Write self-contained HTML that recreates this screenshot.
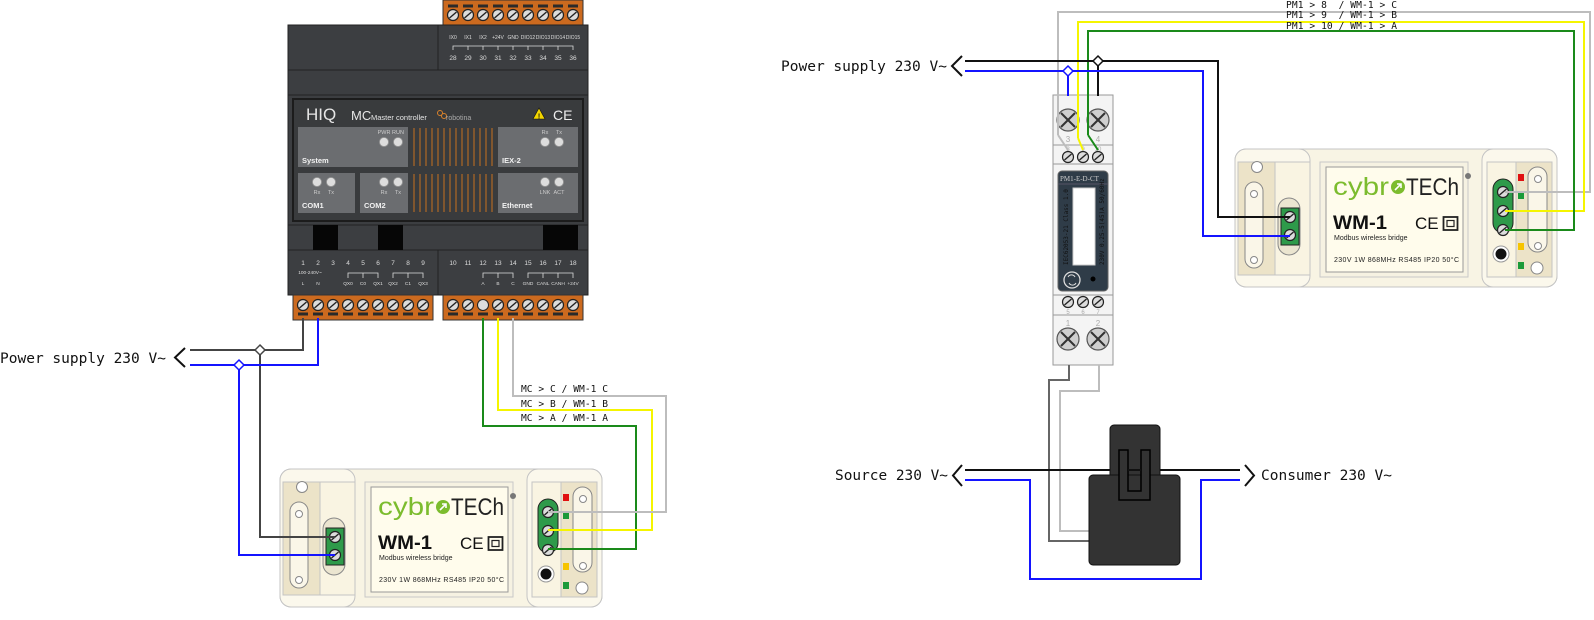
<!DOCTYPE html>
<html><head><meta charset="utf-8"><style>
html,body{margin:0;padding:0;background:#fff;}
svg{display:block;}
.m{font-family:"DejaVu Sans Mono","Liberation Mono",monospace;fill:#111;}
.s{font-family:"Liberation Sans",sans-serif;}
</style></head><body>
<svg width="1594" height="620" viewBox="0 0 1594 620" xmlns="http://www.w3.org/2000/svg">
<defs>
<g id="sc"><circle r="5.5" fill="#dcdcdc" stroke="#222" stroke-width="1.2"/><line x1="-3.5" y1="3" x2="3.5" y2="-3" stroke="#222" stroke-width="1.4"/></g>
<g id="bx"><circle r="11" fill="#cfcfcf" stroke="#555" stroke-width="1.2"/><line x1="-7" y1="-7" x2="7" y2="7" stroke="#333" stroke-width="2"/><line x1="-7" y1="7" x2="7" y2="-7" stroke="#333" stroke-width="2"/></g>
<g id="led"><circle r="4.5" fill="#ddd" stroke="#999" stroke-width="0.8"/></g>
<g id="tab"><rect x="-5" y="-1.5" width="10" height="3" fill="#2a2a2a"/></g>
</defs>

<!-- ================= CONTROLLER ================= -->
<rect x="443" y="0" width="140" height="25" fill="#cc6a1f" stroke="#333"/>
<g>
<use href="#tab" x="453" y="6"/><use href="#tab" x="468" y="6"/><use href="#tab" x="483" y="6"/><use href="#tab" x="498" y="6"/><use href="#tab" x="513" y="6"/><use href="#tab" x="528" y="6"/><use href="#tab" x="543" y="6"/><use href="#tab" x="558" y="6"/><use href="#tab" x="573" y="6"/>
<use href="#sc" x="453" y="15"/><use href="#sc" x="468" y="15"/><use href="#sc" x="483" y="15"/><use href="#sc" x="498" y="15"/><use href="#sc" x="513" y="15"/><use href="#sc" x="528" y="15"/><use href="#sc" x="543" y="15"/><use href="#sc" x="558" y="15"/><use href="#sc" x="573" y="15"/>
</g>
<rect x="288" y="25" width="300" height="270" fill="#3c3e41" stroke="#222"/>
<line x1="288" y1="70" x2="588" y2="70" stroke="#222"/>
<line x1="438" y1="25" x2="438" y2="70" stroke="#222"/>
<line x1="288" y1="95" x2="588" y2="95" stroke="#222"/>
<g class="s" font-size="5" fill="#ddd" text-anchor="middle">
<text x="453" y="39">IX0</text><text x="468" y="39">IX1</text><text x="483" y="39">IX2</text><text x="498" y="39">+24V</text><text x="513" y="39">GND</text><text x="528" y="39">DIO12</text><text x="543" y="39">DIO13</text><text x="558" y="39">DIO14</text><text x="573" y="39">DIO15</text>
</g>
<path d="M453 50 V46 H573 V50 M468 46 V50 M483 46 V50 M498 46 V50 M513 46 V50 M528 46 V50 M543 46 V50 M558 46 V50" stroke="#ddd" fill="none" stroke-width="0.8"/>
<g class="s" font-size="6.5" fill="#ddd" text-anchor="middle">
<text x="453" y="60">28</text><text x="468" y="60">29</text><text x="483" y="60">30</text><text x="498" y="60">31</text><text x="513" y="60">32</text><text x="528" y="60">33</text><text x="543" y="60">34</text><text x="558" y="60">35</text><text x="573" y="60">36</text>
</g>
<!-- panel -->
<rect x="293" y="99" width="290" height="122" fill="#393b3d" stroke="#1c1c1c" stroke-width="2"/>
<text x="306" y="120" class="s" font-size="17" fill="#e6e6e6">HIQ</text>
<text x="351" y="120" class="s" font-size="13" fill="#e6e6e6">MC</text>
<text x="371" y="120" class="s" font-size="7.5" fill="#e6e6e6">Master controller</text>
<circle cx="440" cy="113" r="2.5" fill="none" stroke="#d9822b"/><circle cx="444" cy="116" r="2.5" fill="none" stroke="#d9822b"/>
<text x="446" y="120" class="s" font-size="7" fill="#aaa">robotina</text>
<polygon points="539,108 545,119 533,119" fill="#f2d500" stroke="#111" stroke-width="0.6"/>
<text x="539" y="118.5" class="s" font-size="7" font-weight="bold" text-anchor="middle" fill="#111">!</text>
<text x="553" y="120" class="s" font-size="14" fill="#eee">CE</text>
<rect x="298" y="127" width="110" height="40" fill="#6b6d70"/>
<rect x="298" y="173" width="57" height="40" fill="#6b6d70"/>
<rect x="360" y="173" width="48" height="40" fill="#6b6d70"/>
<rect x="498" y="127" width="80" height="40" fill="#6b6d70"/>
<rect x="498" y="173" width="80" height="40" fill="#6b6d70"/>
<g stroke="#c8701f" stroke-width="1">
<path d="M414 128V166M420 128V166M426 128V166M432 128V166M438 128V166M444 128V166M450 128V166M456 128V166M462 128V166M468 128V166M474 128V166M480 128V166M486 128V166M492 128V166"/>
<path d="M414 174V212M420 174V212M426 174V212M432 174V212M438 174V212M444 174V212M450 174V212M456 174V212M462 174V212M468 174V212M474 174V212M480 174V212M486 174V212M492 174V212"/>
</g>
<use href="#led" x="384" y="142"/><use href="#led" x="398" y="142"/>
<use href="#led" x="545" y="142"/><use href="#led" x="559" y="142"/>
<use href="#led" x="317" y="182"/><use href="#led" x="331" y="182"/>
<use href="#led" x="384" y="182"/><use href="#led" x="398" y="182"/>
<use href="#led" x="545" y="182"/><use href="#led" x="559" y="182"/>
<g class="s" font-size="5.5" fill="#ccc" text-anchor="middle">
<text x="384" y="134">PWR</text><text x="398" y="134">RUN</text>
<text x="545" y="134">Rx</text><text x="559" y="134">Tx</text>
<text x="317" y="194">Rx</text><text x="331" y="194">Tx</text>
<text x="384" y="194">Rx</text><text x="398" y="194">Tx</text>
<text x="545" y="194">LNK</text><text x="559" y="194">ACT</text>
</g>
<g class="s" font-size="7.5" font-weight="bold" fill="#f2f2f2">
<text x="302" y="163">System</text><text x="502" y="163">IEX-2</text>
<text x="302" y="208">COM1</text><text x="364" y="208">COM2</text><text x="502" y="208">Ethernet</text>
</g>
<line x1="288" y1="225" x2="588" y2="225" stroke="#222"/>
<line x1="288" y1="250" x2="588" y2="250" stroke="#222"/>
<rect x="313" y="225" width="25" height="25" fill="#060606"/>
<rect x="378" y="225" width="25" height="25" fill="#060606"/>
<rect x="543" y="225" width="35" height="25" fill="#060606"/>
<line x1="438" y1="250" x2="438" y2="295" stroke="#222"/>
<g class="s" font-size="6.5" fill="#ddd" text-anchor="middle">
<text x="303" y="265">1</text><text x="318" y="265">2</text><text x="333" y="265">3</text><text x="348" y="265">4</text><text x="363" y="265">5</text><text x="378" y="265">6</text><text x="393" y="265">7</text><text x="408" y="265">8</text><text x="423" y="265">9</text>
<text x="453" y="265">10</text><text x="468" y="265">11</text><text x="483" y="265">12</text><text x="498" y="265">13</text><text x="513" y="265">14</text><text x="528" y="265">15</text><text x="543" y="265">16</text><text x="558" y="265">17</text><text x="573" y="265">18</text>
</g>
<g class="s" font-size="4.8" fill="#ddd" text-anchor="middle">
<text x="310" y="274">100-240V~</text>
<text x="303" y="285">L</text><text x="318" y="285">N</text><text x="348" y="285">QX0</text><text x="363" y="285">C0</text><text x="378" y="285">QX1</text><text x="393" y="285">QX2</text><text x="408" y="285">C1</text><text x="423" y="285">QX3</text>
<text x="483" y="285">A</text><text x="498" y="285">B</text><text x="513" y="285">C</text><text x="528" y="285">GND</text><text x="543" y="285">CANL</text><text x="558" y="285">CANH</text><text x="573" y="285">+24V</text>
</g>
<path d="M348 278V273H378V278M363 273V278M393 278V273H423V278M408 273V278M483 278V273H513V278M498 273V278M528 278V273H573V278M543 273V278M558 273V278" stroke="#ddd" fill="none" stroke-width="0.8"/>
<rect x="293" y="295" width="140" height="25" fill="#cc6a1f" stroke="#333"/>
<rect x="443" y="295" width="140" height="25" fill="#cc6a1f" stroke="#333"/>
<g>
<use href="#sc" x="303" y="305"/><use href="#sc" x="318" y="305"/><use href="#sc" x="333" y="305"/><use href="#sc" x="348" y="305"/><use href="#sc" x="363" y="305"/><use href="#sc" x="378" y="305"/><use href="#sc" x="393" y="305"/><use href="#sc" x="408" y="305"/><use href="#sc" x="423" y="305"/>
<use href="#sc" x="453" y="305"/><use href="#sc" x="468" y="305"/><circle cx="483" cy="305" r="5.5" fill="#dcdcdc" stroke="#222"/><use href="#sc" x="498" y="305"/><use href="#sc" x="513" y="305"/><use href="#sc" x="528" y="305"/><use href="#sc" x="543" y="305"/><use href="#sc" x="558" y="305"/><use href="#sc" x="573" y="305"/>
<use href="#tab" x="303" y="314"/><use href="#tab" x="318" y="314"/><use href="#tab" x="333" y="314"/><use href="#tab" x="348" y="314"/><use href="#tab" x="363" y="314"/><use href="#tab" x="378" y="314"/><use href="#tab" x="393" y="314"/><use href="#tab" x="408" y="314"/><use href="#tab" x="423" y="314"/>
<use href="#tab" x="453" y="314"/><use href="#tab" x="468" y="314"/><use href="#tab" x="483" y="314"/><use href="#tab" x="498" y="314"/><use href="#tab" x="513" y="314"/><use href="#tab" x="528" y="314"/><use href="#tab" x="543" y="314"/><use href="#tab" x="558" y="314"/><use href="#tab" x="573" y="314"/>
</g>

<!-- ================= WM-1 LEFT (origin 280,469) ================= -->
<g transform="translate(280,469)">
<rect x="0" y="0" width="322" height="138" rx="11" fill="#f8f4e4" stroke="#c4c4c4"/>
<rect x="0" y="0" width="75" height="138" rx="11" fill="#fbf8ec" stroke="#c4c4c4"/>
<rect x="3" y="13" width="72" height="113" fill="#ece3c8" stroke="#c4c4c4"/>
<rect x="40" y="13" width="35" height="113" fill="#f9f4e2" stroke="#c4c4c4"/>
<circle cx="22" cy="18" r="5.5" fill="#fff" stroke="#888"/>
<rect x="10" y="33" width="18" height="86" rx="9" fill="#faf6e8" stroke="#888"/>
<circle cx="19" cy="45" r="3.5" fill="#fff" stroke="#888"/><circle cx="19" cy="111" r="3.5" fill="#fff" stroke="#888"/>
<rect x="43" y="49" width="22" height="57" rx="11" fill="#ebe5d0" stroke="#888"/>
<rect x="46" y="59" width="18" height="37" fill="#2e9a4a" stroke="#222"/>
<use href="#sc" x="55" y="68"/><use href="#sc" x="55" y="86"/>
<rect x="85" y="13" width="148" height="115" fill="#f6f2e2" stroke="#c8c8c8"/>
<rect x="91" y="18" width="137" height="105" fill="#fffcec" stroke="#999"/>
<circle cx="233" cy="27" r="3" fill="#777"/>
<text x="98" y="46" class="s" font-size="25" fill="#7cbc2e" textLength="56" lengthAdjust="spacingAndGlyphs">cybr</text>
<circle cx="163" cy="38" r="7" fill="#7cbc2e"/>
<path d="M160 41 L166 35 M162 35 H166 V39" stroke="#fff" stroke-width="1.6" fill="none"/>
<text x="171" y="46" class="s" font-size="24" fill="#222" textLength="53" lengthAdjust="spacingAndGlyphs">TECh</text>
<text x="98" y="80" class="s" font-size="19" font-weight="bold" fill="#111" textLength="54" lengthAdjust="spacingAndGlyphs">WM-1</text>
<text x="180" y="80" class="s" font-size="17" fill="#111">CE</text>
<rect x="208.5" y="68" width="14" height="13" fill="none" stroke="#222" stroke-width="1.8"/>
<rect x="212" y="71.5" width="7" height="6" fill="none" stroke="#222" stroke-width="1.2"/>
<text x="99" y="91" class="s" font-size="7" fill="#222">Modbus wireless bridge</text>
<text x="99" y="113" class="s" font-size="7" fill="#222" textLength="125">230V 1W 868MHz RS485 IP20 50°C</text>
<rect x="247" y="0" width="75" height="138" rx="11" fill="#fbf8ec" stroke="#c4c4c4"/>
<rect x="252" y="13" width="65" height="115" fill="#f9f4e2" stroke="#c4c4c4"/>
<rect x="281" y="13" width="36" height="115" fill="#ece3c8" stroke="#c4c4c4"/>
<rect x="293" y="18" width="19" height="85" rx="9.5" fill="#faf6e8" stroke="#888"/>
<circle cx="303" cy="30" r="3.5" fill="#fff" stroke="#888"/><circle cx="303" cy="97" r="3.5" fill="#fff" stroke="#888"/>
<circle cx="302" cy="119" r="6" fill="#fff" stroke="#888"/>
<rect x="283" y="25" width="6" height="7" fill="#e01010"/>
<rect x="283" y="43" width="6" height="7" fill="#1b9a3a"/>
<rect x="283" y="94" width="6" height="7" fill="#f6c400"/>
<rect x="283" y="113" width="6" height="7" fill="#1b9a3a"/>
<rect x="258" y="30" width="20" height="54" rx="10" fill="#2e9a4a" stroke="#222"/>
<use href="#sc" x="268" y="43"/><use href="#sc" x="268" y="62"/><use href="#sc" x="268" y="81"/>
<circle cx="266" cy="105" r="8" fill="#fff" stroke="#999"/><circle cx="266" cy="105" r="5.5" fill="#111"/>
</g>

<!-- ================= WM-1 RIGHT (origin 1235,149) ================= -->
<g transform="translate(1235,149)">
<rect x="0" y="0" width="322" height="138" rx="11" fill="#f8f4e4" stroke="#c4c4c4"/>
<rect x="0" y="0" width="75" height="138" rx="11" fill="#fbf8ec" stroke="#c4c4c4"/>
<rect x="3" y="13" width="72" height="113" fill="#ece3c8" stroke="#c4c4c4"/>
<rect x="40" y="13" width="35" height="113" fill="#f9f4e2" stroke="#c4c4c4"/>
<circle cx="22" cy="18" r="5.5" fill="#fff" stroke="#888"/>
<rect x="10" y="33" width="18" height="86" rx="9" fill="#faf6e8" stroke="#888"/>
<circle cx="19" cy="45" r="3.5" fill="#fff" stroke="#888"/><circle cx="19" cy="111" r="3.5" fill="#fff" stroke="#888"/>
<rect x="43" y="49" width="22" height="57" rx="11" fill="#ebe5d0" stroke="#888"/>
<rect x="46" y="59" width="18" height="37" fill="#2e9a4a" stroke="#222"/>
<use href="#sc" x="55" y="68"/><use href="#sc" x="55" y="86"/>
<rect x="85" y="13" width="148" height="115" fill="#f6f2e2" stroke="#c8c8c8"/>
<rect x="91" y="18" width="137" height="105" fill="#fffcec" stroke="#999"/>
<circle cx="233" cy="27" r="3" fill="#777"/>
<text x="98" y="46" class="s" font-size="25" fill="#7cbc2e" textLength="56" lengthAdjust="spacingAndGlyphs">cybr</text>
<circle cx="163" cy="38" r="7" fill="#7cbc2e"/>
<path d="M160 41 L166 35 M162 35 H166 V39" stroke="#fff" stroke-width="1.6" fill="none"/>
<text x="171" y="46" class="s" font-size="24" fill="#222" textLength="53" lengthAdjust="spacingAndGlyphs">TECh</text>
<text x="98" y="80" class="s" font-size="19" font-weight="bold" fill="#111" textLength="54" lengthAdjust="spacingAndGlyphs">WM-1</text>
<text x="180" y="80" class="s" font-size="17" fill="#111">CE</text>
<rect x="208.5" y="68" width="14" height="13" fill="none" stroke="#222" stroke-width="1.8"/>
<rect x="212" y="71.5" width="7" height="6" fill="none" stroke="#222" stroke-width="1.2"/>
<text x="99" y="91" class="s" font-size="7" fill="#222">Modbus wireless bridge</text>
<text x="99" y="113" class="s" font-size="7" fill="#222" textLength="125">230V 1W 868MHz RS485 IP20 50°C</text>
<rect x="247" y="0" width="75" height="138" rx="11" fill="#fbf8ec" stroke="#c4c4c4"/>
<rect x="252" y="13" width="65" height="115" fill="#f9f4e2" stroke="#c4c4c4"/>
<rect x="281" y="13" width="36" height="115" fill="#ece3c8" stroke="#c4c4c4"/>
<rect x="293" y="18" width="19" height="85" rx="9.5" fill="#faf6e8" stroke="#888"/>
<circle cx="303" cy="30" r="3.5" fill="#fff" stroke="#888"/><circle cx="303" cy="97" r="3.5" fill="#fff" stroke="#888"/>
<circle cx="302" cy="119" r="6" fill="#fff" stroke="#888"/>
<rect x="283" y="25" width="6" height="7" fill="#e01010"/>
<rect x="283" y="43" width="6" height="7" fill="#1b9a3a"/>
<rect x="283" y="94" width="6" height="7" fill="#f6c400"/>
<rect x="283" y="113" width="6" height="7" fill="#1b9a3a"/>
<rect x="258" y="30" width="20" height="54" rx="10" fill="#2e9a4a" stroke="#222"/>
<use href="#sc" x="268" y="43"/><use href="#sc" x="268" y="62"/><use href="#sc" x="268" y="81"/>
<circle cx="266" cy="105" r="8" fill="#fff" stroke="#999"/><circle cx="266" cy="105" r="5.5" fill="#111"/>
</g>

<!-- ================= LEFT WIRING ================= -->
<g fill="none" stroke-width="2">
<path d="M190 350 H303 V318" stroke="#444"/>
<path d="M260 350 V537 H335" stroke="#444"/>
<path d="M190 365 H318 V318" stroke="#1414ff"/>
<path d="M239 365 V555 H335" stroke="#1414ff"/>
<path d="M483 318 V426 H636 V549 H548" stroke="#1a8a1a"/>
<path d="M498 318 V410 H652 V530 H548" stroke="#f5f500"/>
<path d="M513 318 V396 H666 V512 H548" stroke="#bdbdbd"/>
</g>
<polygon points="260,345 265,350 260,355 255,350" fill="#fff" stroke="#444" stroke-width="1.5"/>
<polygon points="239,360 244,365 239,370 234,365" fill="#fff" stroke="#1414ff" stroke-width="1.5"/>
<path d="M185 348 L175 357.5 L185 367" fill="none" stroke="#111" stroke-width="2"/>
<text x="0" y="363" class="m" font-size="14.5" textLength="166" lengthAdjust="spacingAndGlyphs">Power supply 230 V~</text>
<g class="m" font-size="9.6" fill="#222">
<text x="521" y="392" textLength="87">MC &gt; C / WM-1 C</text>
<text x="521" y="407" textLength="87">MC &gt; B / WM-1 B</text>
<text x="521" y="421" textLength="87">MC &gt; A / WM-1 A</text>
</g>

<!-- ================= PM1 METER ================= -->
<rect x="1053" y="95" width="60" height="270" fill="#f4f4f4" stroke="#999"/>
<line x1="1053" y1="145" x2="1113" y2="145" stroke="#999"/>
<line x1="1053" y1="164" x2="1113" y2="164" stroke="#999"/>
<line x1="1053" y1="295" x2="1113" y2="295" stroke="#999"/>
<line x1="1053" y1="315" x2="1113" y2="315" stroke="#999"/>
<use href="#bx" x="1068" y="120"/><use href="#bx" x="1098" y="120"/>
<g class="s" font-size="8" fill="#aaa" text-anchor="middle">
<text x="1068" y="142">3</text><text x="1098" y="142">4</text>
<text x="1068" y="151" font-size="6">8</text><text x="1083" y="151" font-size="6">9</text><text x="1098" y="151" font-size="6">10</text>
<text x="1068" y="314" font-size="6">5</text><text x="1083" y="314" font-size="6">6</text><text x="1098" y="314" font-size="6">7</text>
<text x="1068" y="326">1</text><text x="1098" y="326">2</text>
</g>
<use href="#sc" x="1068" y="157"/><use href="#sc" x="1083" y="157"/><use href="#sc" x="1098" y="157"/>
<use href="#sc" x="1068" y="302"/><use href="#sc" x="1083" y="302"/><use href="#sc" x="1098" y="302"/>
<use href="#bx" x="1068" y="339"/><use href="#bx" x="1098" y="339"/>
<rect x="1058" y="171" width="50" height="120" rx="4" fill="#2f3c48" stroke="#666"/>
<line x1="1058" y1="184" x2="1108" y2="184" stroke="#556"/>
<text x="1060" y="181" font-family="Liberation Serif,serif" font-size="7" fill="#ccc">PM1-E-D-CT</text>
<rect x="1073" y="188" width="22" height="77" fill="#fff" stroke="#ccc"/>
<text transform="translate(1068,265) rotate(-90)" class="m" font-size="6" fill="#ccc">IEC62053-21 Class 1.0</text>
<text transform="translate(1104,265) rotate(-90)" class="m" font-size="6" fill="#ccc">230V 0.25-5(45)A 50/60Hz</text>
<circle cx="1072" cy="280" r="8" fill="none" stroke="#ddd" stroke-width="1.3"/>
<path d="M1068 277 a4 4 0 0 1 7 0 M1076 283 a4 4 0 0 1 -7 0" fill="none" stroke="#ddd"/>
<circle cx="1093" cy="279" r="2.5" fill="#000"/>

<!-- ================= RIGHT WIRING ================= -->
<g fill="none" stroke-width="2">
<path d="M1058 135 V12 H1590 V192 H1505" stroke="#bdbdbd"/>
<path d="M1058 135 L1068 150" stroke="#bdbdbd"/>
<path d="M1078 138 V22 H1584 V211 H1505" stroke="#f5f500"/>
<path d="M1078 138 L1083 150" stroke="#f5f500"/>
<path d="M1088 135 V31 H1574 V230 H1505" stroke="#1a8a1a"/>
<path d="M1088 135 L1098 150" stroke="#1a8a1a"/>
<path d="M965 61 H1218 V217 H1290" stroke="#111"/>
<path d="M1098 61 V96" stroke="#111"/>
<path d="M965 71 H1203 V236 H1290" stroke="#1414ff"/>
<path d="M1068 71 V96" stroke="#1414ff"/>
<path d="M1069 365 V380 H1049 V541 H1090" stroke="#666"/>
<path d="M1099 365 V391 H1060 V531 H1090" stroke="#bdbdbd"/>
<path d="M965 470 H1240" stroke="#111"/>
<path d="M965 480 H1030 V579 H1201 V480 H1240" stroke="#1414ff"/>
</g>
<polygon points="1098,56 1103,61 1098,66 1093,61" fill="#fff" stroke="#111" stroke-width="1.5"/>
<polygon points="1068,66 1073,71 1068,76 1063,71" fill="#fff" stroke="#1414ff" stroke-width="1.5"/>
<path d="M962 56 L952 66 L962 76" fill="none" stroke="#111" stroke-width="2"/>
<text x="781" y="71" class="m" font-size="14.5" textLength="166" lengthAdjust="spacingAndGlyphs">Power supply 230 V~</text>
<g class="m" font-size="9.6" fill="#222">
<text x="1286" y="8" xml:space="preserve" textLength="111">PM1 &gt; 8  / WM-1 &gt; C</text>
<text x="1286" y="18" xml:space="preserve" textLength="111">PM1 &gt; 9  / WM-1 &gt; B</text>
<text x="1286" y="29" textLength="111">PM1 &gt; 10 / WM-1 &gt; A</text>
</g>
<!-- CT -->
<rect x="1110" y="425" width="50" height="55" rx="4" fill="#333" stroke="#111"/>
<rect x="1089" y="475" width="91" height="90" rx="4" fill="#333" stroke="#111"/>
<path d="M1119 450 V500 H1150 V450 H1141 V491 H1128 V450 Z" fill="#333" stroke="#000" stroke-width="1.5"/>
<line x1="1128" y1="470" x2="1141" y2="470" stroke="#111" stroke-width="2"/>
<path d="M962 465 L953 475.5 L962 486" fill="none" stroke="#111" stroke-width="2"/>
<path d="M1245 465 L1254 475.5 L1245 486" fill="none" stroke="#111" stroke-width="2"/>
<text x="835" y="480" class="m" font-size="14.5" textLength="113" lengthAdjust="spacingAndGlyphs">Source 230 V~</text>
<text x="1261" y="480" class="m" font-size="14.5" textLength="131" lengthAdjust="spacingAndGlyphs">Consumer 230 V~</text>
</svg>
</body></html>
